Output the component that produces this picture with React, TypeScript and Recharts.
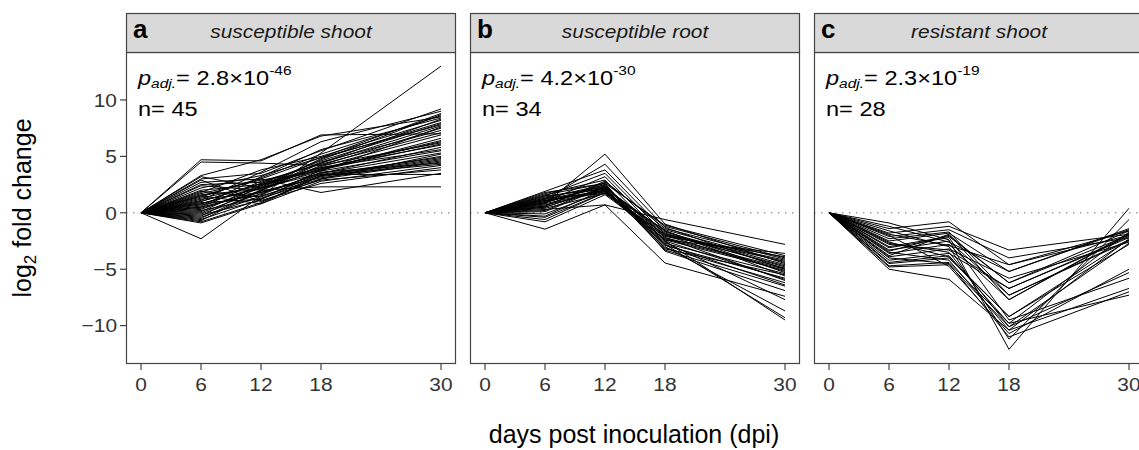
import React from "react";
import { LineChart, Line, XAxis, YAxis, ReferenceLine } from "recharts";

const days = [0, 6, 12, 18, 30];
const yTicks = [-10, -5, 0, 5, 10];

// log2 fold change per gene at 0, 6, 12, 18 and 30 dpi
const susceptibleShoot: number[][] = [
  [0, -2.3, 1.5, 5.3, 13.0],
  [0, 4.7, 4.6, 6.9, 7.0],
  [0, 4.5, 4.4, 4.2, 6.2],
  [0, 3.3, 4.7, 6.8, 8.5],
  [0, 3.2, 2.2, 3.5, 5.3],
  [0, 3.0, 3.5, 5.5, 9.2],
  [0, 2.9, 1.0, 3.0, 4.5],
  [0, 2.7, 3.0, 1.8, 3.5],
  [0, 2.5, 2.7, 4.4, 7.7],
  [0, 2.4, 2.0, 2.3, 2.3],
  [0, 2.2, 3.3, 4.9, 8.8],
  [0, 2.0, 2.5, 4.0, 6.0],
  [0, 1.9, 1.4, 3.4, 4.9],
  [0, 1.8, 3.8, 5.0, 8.2],
  [0, 1.7, 2.9, 3.7, 5.5],
  [0, 1.6, 2.1, 4.5, 7.3],
  [0, 1.5, 0.8, 2.8, 4.2],
  [0, 1.4, 3.1, 5.2, 8.6],
  [0, 1.3, 2.4, 3.9, 6.4],
  [0, 1.2, 1.8, 3.2, 4.7],
  [0, 1.1, 3.6, 6.3, 9.0],
  [0, 1.0, 2.6, 4.6, 7.9],
  [0, 0.9, 1.2, 3.3, 5.0],
  [0, 0.8, 2.3, 4.1, 6.9],
  [0, 0.7, 1.6, 3.6, 4.4],
  [0, 0.6, 3.2, 5.6, 8.4],
  [0, 0.5, 2.8, 4.3, 7.1],
  [0, 0.4, 1.9, 3.1, 4.6],
  [0, 0.3, 2.2, 4.8, 8.0],
  [0, 0.2, 1.3, 2.9, 3.8],
  [0, 0.1, 2.5, 3.8, 6.6],
  [0, 0.0, 2.0, 4.2, 7.5],
  [0, -0.1, 1.7, 3.5, 5.8],
  [0, -0.2, 1.1, 2.6, 4.0],
  [0, -0.3, 2.4, 4.7, 8.7],
  [0, -0.4, 1.5, 3.0, 5.2],
  [0, -0.5, 2.0, 3.9, 6.3],
  [0, -0.6, 1.2, 3.8, 6.1],
  [0, -0.7, 2.0, 4.4, 8.3],
  [0, -0.8, 0.9, 3.3, 4.3],
  [0, -0.9, 0.8, 3.3, 4.8],
  [0, 0.5, 1.8, 3.4, 3.4],
  [0, 1.0, 2.6, 4.0, 5.6],
  [0, 1.5, 3.0, 4.9, 7.8],
  [0, 0.8, 2.2, 3.7, 7.6],
];

const susceptibleRoot: number[][] = [
  [0, 0.8, 5.2, -1.0, -4.5],
  [0, 1.2, 4.3, -1.3, -5.0],
  [0, 1.9, 3.8, -1.6, -5.6],
  [0, 1.5, 3.5, -1.9, -4.2],
  [0, 1.0, 3.2, -2.2, -6.0],
  [0, 1.7, 2.9, -2.5, -9.5],
  [0, 0.6, 2.7, -1.2, -4.0],
  [0, -1.45, 0.7, -4.45, -7.4],
  [0, 0.3, 0.7, -0.6, -2.8],
  [0, 1.3, 2.5, -2.8, -9.3],
  [0, 0.9, 2.4, -3.0, -8.7],
  [0, 1.4, 2.3, -2.0, -5.2],
  [0, 0.5, 2.2, -3.3, -6.5],
  [0, -0.3, 2.1, -1.8, -4.8],
  [0, 1.1, 2.0, -2.4, -3.6],
  [0, 0.7, 1.9, -2.7, -5.4],
  [0, -0.6, 1.8, -1.5, -4.4],
  [0, 1.6, 2.6, -3.4, -6.9],
  [0, 0.4, 1.7, -2.1, -3.9],
  [0, 1.2, 2.2, -1.7, -4.6],
  [0, 0.2, 2.4, -2.9, -5.8],
  [0, -0.8, 1.6, -2.3, -5.0],
  [0, 1.0, 2.0, -3.1, -6.2],
  [0, 0.6, 2.8, -1.4, -4.1],
  [0, 1.5, 2.1, -2.6, -7.7],
  [0, -0.1, 1.9, -2.0, -4.3],
  [0, 0.9, 2.5, -3.2, -5.5],
  [0, 1.3, 1.7, -1.9, -4.7],
  [0, 0.1, 2.3, -2.5, -5.9],
  [0, 0.8, 2.0, -2.2, -4.9],
  [0, 1.8, 2.6, -1.1, -3.8],
  [0, -0.4, 1.8, -2.8, -6.4],
  [0, 0.5, 2.2, -1.6, -5.3],
  [0, 1.1, 1.9, -2.4, -5.1],
];

const resistantShoot: number[][] = [
  [0, -1.4, -0.8, -4.6, -1.6],
  [0, -1.8, -1.2, -3.3, -1.9],
  [0, -2.1, -1.5, -4.0, -2.2],
  [0, -2.5, -1.8, -5.2, -1.5],
  [0, -3.0, -2.1, -6.2, -2.0],
  [0, -3.3, -2.5, -7.3, -2.4],
  [0, -3.6, -2.8, -7.7, -1.8],
  [0, -3.9, -3.2, -5.8, -2.6],
  [0, -4.2, -3.6, -6.7, -2.1],
  [0, -4.5, -4.0, -9.2, -2.8],
  [0, -4.7, -4.4, -9.8, -1.7],
  [0, -5.0, -5.9, -10.4, -2.3],
  [0, -0.9, -2.4, -12.1, 0.4],
  [0, -1.6, -3.0, -11.2, -0.6],
  [0, -2.0, -4.75, -10.7, -5.0],
  [0, -2.7, -3.5, -10.1, -5.3],
  [0, -3.1, -2.2, -9.5, -5.8],
  [0, -3.5, -4.2, -10.4, -6.7],
  [0, -4.0, -4.5, -11.0, -7.0],
  [0, -4.4, -3.8, -9.8, -7.3],
  [0, -2.3, -1.7, -7.3, -2.5],
  [0, -1.2, -2.6, -5.2, -1.4],
  [0, -2.8, -3.3, -6.7, -2.2],
  [0, -3.8, -1.9, -7.7, -1.9],
  [0, -1.9, -2.9, -4.6, -2.0],
  [0, -4.8, -4.6, -10.1, -2.7],
  [0, -3.4, -2.0, -6.2, -1.6],
  [0, -2.6, -3.9, -9.2, -2.4],
];

const panels = [
  { tag: "a", title: "susceptible shoot", p: "2.8", exp: "-46", n: 45, genes: susceptibleShoot },
  { tag: "b", title: "susceptible root", p: "4.2", exp: "-30", n: 34, genes: susceptibleRoot },
  { tag: "c", title: "resistant shoot", p: "2.3", exp: "-19", n: 28, genes: resistantShoot },
];

const FONT = '"Liberation Sans", Arial, Helvetica, sans-serif';
const PLOT_TOP = 52;
const PLOT_W = 330;
const PLOT_H = 312;
const LEFTS = [126, 470, 814];
const Y_AXIS_W = 60;
const X_AXIS_H = 45;
const STRETCH = 1.1;
const BORDER = "#444";

const toTable = (genes: number[][]) =>
  days.map((day, i) => {
    const row: Record<string, number> = { day };
    genes.forEach((g, j) => {
      row["g" + j] = g[i];
    });
    return row;
  });

const XTick = (props: any) => {
  const { x, y, payload } = props;
  return (
    <g transform={`translate(${x},${y}) scale(${STRETCH},1)`}>
      <text dy="0.71em" textAnchor="middle" fill="#333" fontSize={19} fontFamily={FONT}>
        {payload.value}
      </text>
    </g>
  );
};

const YTick = (props: any) => {
  const { x, y, payload } = props;
  return (
    <g transform={`translate(${x},${y}) scale(${STRETCH},1)`}>
      <text dy="0.355em" textAnchor="end" fill="#333" fontSize={19} fontFamily={FONT}>
        {String(payload.value).replace("-", "\u2212")}
      </text>
    </g>
  );
};

const Panel = ({ index }: { index: number }) => {
  const panel = panels[index];
  const first = index === 0;
  const axisW = first ? Y_AXIS_W : 0;
  const data = toTable(panel.genes);
  return (
    <div style={{ position: "absolute", left: LEFTS[index] - axisW, top: PLOT_TOP }}>
      <LineChart
        width={PLOT_W + axisW}
        height={PLOT_H + X_AXIS_H}
        data={data}
        margin={{ top: 0, right: 0, bottom: 0, left: 0 }}
      >
        <XAxis
          dataKey="day"
          type="number"
          domain={[-1.5, 31.5]}
          allowDataOverflow
          ticks={days}
          axisLine={false}
          tickLine={{ stroke: "#333", strokeWidth: 1.1 }}
          tickSize={6}
          tickMargin={8}
          height={X_AXIS_H}
          tick={<XTick />}
        />
        <YAxis
          type="number"
          domain={[-13.4, 14.25]}
          allowDataOverflow
          ticks={yTicks}
          hide={!first}
          width={axisW}
          axisLine={false}
          tickLine={{ stroke: "#333", strokeWidth: 1.1 }}
          tickSize={6}
          tickMargin={3}
          tick={<YTick />}
        />
        <ReferenceLine y={0} stroke="#9a9a9a" strokeWidth={1.4} strokeDasharray="1.4 5.6" />
        {panel.genes.map((_, j) => (
          <Line
            key={j}
            type="linear"
            dataKey={"g" + j}
            stroke="#000"
            strokeWidth={1}
            dot={false}
            activeDot={false}
            isAnimationActive={false}
          />
        ))}
      </LineChart>
    </div>
  );
};

export default function App() {
  return (
    <div
      style={{
        position: "absolute",
        left: 0,
        top: 0,
        width: 1139,
        height: 450,
        overflow: "hidden",
        background: "#fff",
        fontFamily: FONT,
      }}
    >
      {panels.map((_, i) => (
        <Panel key={i} index={i} />
      ))}
      <svg
        width={1170}
        height={450}
        style={{ position: "absolute", left: 0, top: 0, pointerEvents: "none" }}
        fontFamily={FONT}
      >
        {panels.map((panel, i) => {
          const L = LEFTS[i];
          return (
            <g key={panel.tag}>
              <rect x={L + 0.5} y={PLOT_TOP + 0.5} width={PLOT_W - 1} height={PLOT_H - 1} fill="none" stroke={BORDER} strokeWidth={1.2} />
              <rect x={L + 0.5} y={13.5} width={PLOT_W - 1} height={39} fill="#d9d9d9" stroke={BORDER} strokeWidth={1.2} />
              <text x={L + 7} y={38} fontSize={26} fontWeight="bold" fill="#000">
                {panel.tag}
              </text>
              <text
                transform={`translate(${L + PLOT_W / 2},38) scale(${STRETCH},1)`}
                textAnchor="middle"
                fontSize={19}
                fontStyle="italic"
                fill="#1a1a1a"
              >
                {panel.title}
              </text>
              <text transform={`translate(${L + 12},85) scale(1.15,1)`} fontSize={20.5} fill="#000">
                <tspan fontStyle="italic">p</tspan>
                <tspan fontSize={13.5} fontStyle="italic" dy={3}>
                  adj.
                </tspan>
                <tspan dy={-3}>= {panel.p}×10</tspan>
                <tspan fontSize={13.5} dy={-10}>
                  {panel.exp}
                </tspan>
              </text>
              <text transform={`translate(${L + 12},116) scale(1.15,1)`} fontSize={20.5} fill="#000">
                n= {panel.n}
              </text>
            </g>
          );
        })}
        <text transform="translate(31,208) rotate(-90)" textAnchor="middle" fontSize={25} fill="#000">
          log
          <tspan fontSize={17} dy={5}>
            2
          </tspan>
          <tspan dy={-5}> fold change</tspan>
        </text>
        <text x={634} y={443} textAnchor="middle" fontSize={25} fill="#000">
          days post inoculation (dpi)
        </text>
      </svg>
    </div>
  );
}
